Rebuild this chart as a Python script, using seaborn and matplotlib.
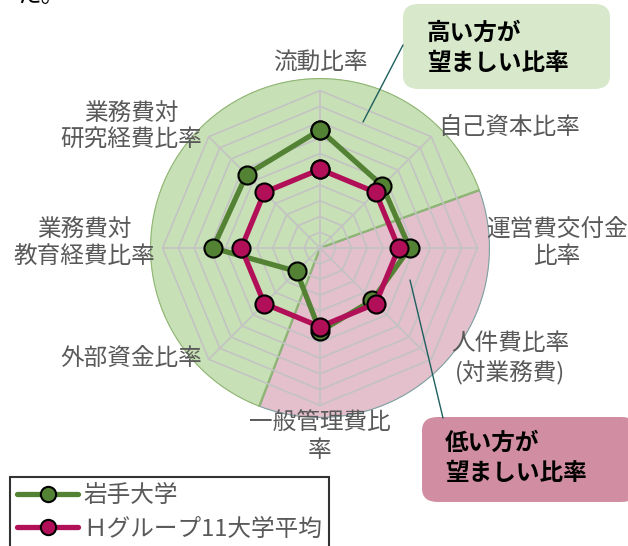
import numpy as np
import pandas as pd
import matplotlib
matplotlib.use("Agg")
import matplotlib.pyplot as plt
from matplotlib.patches import FancyBboxPatch
from matplotlib.lines import Line2D
import seaborn as sns

# Data
categories = ['流動比率', '自己資本比率', '運営費交付金\n比率', '人件費比率\n(対業務費)',
              '一般管理費比\n率', '外部資金比率', '業務費対\n教育経費比率', '業務費対\n研究経費比率']
iwate = [7.5, 5.6, 5.7, 4.7, 5.3, 2.1, 6.8, 6.6]
h_group = [5.0, 5.0, 5.0, 5.0, 5.0, 5.0, 5.0, 5.0]
series_names = ['岩手大学', 'Ｈグループ11大学平均']
callout_high = '高い方が\n望ましい比率'
callout_low = '低い方が\n望ましい比率'

sns.set_style('white')
plt.rcParams['font.family'] = ['Noto Sans CJK JP', 'DejaVu Sans']

W, H = 628, 546
fig = plt.figure(figsize=(W / 100, H / 100), dpi=100)

def fx(px):
    return px / W

def fy(py):
    return 1 - py / H

# polar axes: centre (320, 248), radius 170 px
cx, cy, R = 320, 248, 170
ax = fig.add_axes([fx(cx - R), fy(cy + R), 2 * R / W, 2 * R / H], projection='polar')
ax.set_theta_zero_location('N')
ax.set_theta_direction(-1)
rmax = 10.8
ax.set_ylim(0, rmax)
ax.grid(False)
ax.set_xticks([])
ax.set_yticks([])
ax.spines['polar'].set_visible(False)
ax.patch.set_alpha(0)

n = len(categories)
theta = np.arange(n) * 2 * np.pi / n

# background halves
green_bg, pink_bg = '#c8e0b6', '#e4bfcc'
pink_start, pink_end = np.deg2rad(70), np.deg2rad(201)
ax.bar((pink_start + pink_end) / 2, rmax, width=pink_end - pink_start, bottom=0,
       color=pink_bg, edgecolor='#7fa3a3', linewidth=1.6, zorder=0)
g_w = 2 * np.pi - (pink_end - pink_start)
ax.bar(pink_end + g_w / 2, rmax, width=g_w, bottom=0,
       color=green_bg, edgecolor='#8fb574', linewidth=1.6, zorder=0)

# octagon grid
closed = np.append(theta, 2 * np.pi)
for r in range(1, 11):
    ax.plot(closed, [r] * (n + 1), color='#c3c3c3', lw=1.2, zorder=1)
for t in theta:
    ax.plot([t, t], [0, 10], color='#c3c3c3', lw=1.2, zorder=1)

# series
colors = ['#548235', '#b10f58']
for vals, col, name in zip([iwate, h_group], colors, series_names):
    df = pd.DataFrame({'theta': closed, 'value': list(vals) + [vals[0]]})
    sns.lineplot(data=df, x='theta', y='value', ax=ax, sort=False, color=col,
                 lw=3.8, marker='o', markersize=13, markerfacecolor=col,
                 markeredgecolor='black', markeredgewidth=1.5, zorder=3)
ax.set_xlabel('')
ax.set_ylabel('')
ax.set_ylim(0, rmax)

# category labels
label_pos = [(320, 62), (509, 127), (557, 243), (510, 358),
             (320, 437), (131, 358), (84, 243), (131, 127)]
for lab, (px, py) in zip(categories, label_pos):
    fig.text(fx(px), fy(py), lab, ha='center', va='center', fontsize=17,
             color='#595959', linespacing=1.25)

# callouts
fig.add_artist(Line2D([fx(403), fx(363)], [fy(45), fy(122)], color='#1f5f5f', lw=1))
fig.add_artist(Line2D([fx(410), fx(443)], [fy(280), fy(418)], color='#1f5f5f', lw=1))
fig.add_artist(FancyBboxPatch((fx(403), fy(89)), fx(207), 85 / H,
                              boxstyle='round,pad=0,rounding_size=0.025',
                              facecolor='#d7e8cb', edgecolor='none'))
fig.add_artist(FancyBboxPatch((fx(422), fy(502)), fx(215), 85 / H,
                              boxstyle='round,pad=0,rounding_size=0.025',
                              facecolor='#d18ea2', edgecolor='none'))
fig.text(fx(427), fy(48), callout_high, ha='left', va='center', fontsize=17,
         fontweight='bold', color='black', linespacing=1.3)
fig.text(fx(445), fy(458), callout_low, ha='left', va='center', fontsize=17,
         fontweight='bold', color='black', linespacing=1.3)

# cropped text at the top
fig.text(fx(18), fy(7), 'た。', ha='left', va='bottom', fontsize=17, color='black')

# legend
handles = [Line2D([], [], color=c, lw=3.8, marker='o', markersize=11,
                  markerfacecolor=c, markeredgecolor='black', markeredgewidth=1.5)
           for c in colors]
leg = fig.legend(handles, series_names, loc='upper left',
                 bbox_to_anchor=(fx(10), fy(477)), fontsize=17, frameon=True,
                 fancybox=False, handlelength=2.6, handletextpad=0.2,
                 borderpad=0.3, labelspacing=0.45, borderaxespad=0)
leg.get_frame().set_edgecolor('black')
leg.get_frame().set_linewidth(1.5)
for t in leg.get_texts():
    t.set_color('#595959')

fig.savefig('out.png', dpi=100)
